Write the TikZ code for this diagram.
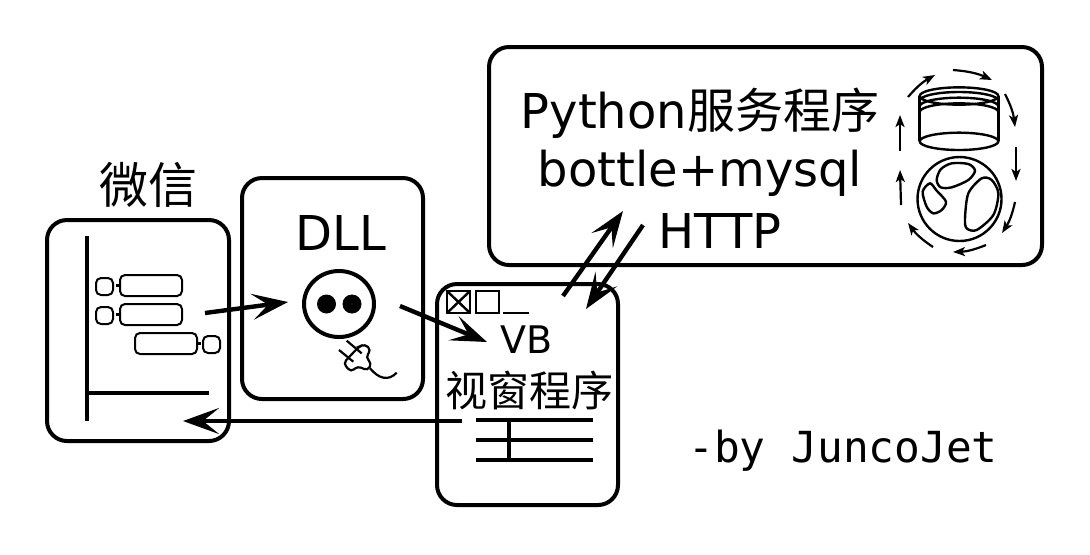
\documentclass[tikz,border=0pt]{standalone}
\usepackage{fontspec}
\setmainfont{DejaVu Sans}
\setmonofont{DejaVu Sans Mono}
\newfontfamily\cjk{Noto Sans CJK SC}
\usetikzlibrary{arrows.meta, shapes.geometric}
\tikzset{
  panel/.style={draw, line width=2pt, rounded corners=10pt, minimum width=#1, anchor=north west, inner sep=0pt},
  label/.style={inner sep=0pt, font=\fontsize{24}{26}\selectfont},
  flow/.style={line width=2.2pt, -{Stealth[length=18pt, width=13pt, inset=8pt]}},
  turn/.style={line width=1.1pt, -{Stealth[length=6pt, width=4.5pt, inset=1.5pt]}},
  thin part/.style={line width=1.2pt},
  bar/.style={line width=2.2pt},
  bubble/.style={draw, line width=1pt, rounded corners=2.5pt, anchor=north west, inner sep=0pt}
}
\begin{document}
\begin{tikzpicture}[x=0.5pt, y=-0.5pt]
\useasboundingbox (0,0) rectangle (1090,554);

% the four boxes
\node[panel=91pt, minimum height=110.5pt] (wechat) at (45,218) {};
\node[panel=90.5pt, minimum height=110.5pt] (dll) at (240,176) {};
\node[panel=90.5pt, minimum height=110.5pt] (vb) at (435,282) {};
\node[panel=276.5pt, minimum height=109pt] (server) at (487,45) {};

% titles
\node[label, font=\fontsize{24.5}{26}\selectfont] (wechatname) at (148,185) {\cjk 微信};
\node[label] (dllname) at (341,233) {DLL};
\node[label] (servername) at (700,113) {Python\cjk 服务程序};
\node[label] (serverstack) at (700,173) {bottle+mysql};
\node[label] (serverproto) at (720,231) {HTTP};
\node[label, font=\fontsize{19}{22}\selectfont] (vbname) at (527,340) {VB};
\node[label, font=\fontsize{21}{22}\selectfont] (vbtext) at (529,390) {\cjk 视窗程序};
\node[label, font=\fontsize{21.4}{24}\ttfamily] (byline) at (843,451) {-by JuncoJet};

% chat window
\draw[bar] (87,236) -- (87,421);
\draw[bar] (87,393) -- (209,393);
\node[bubble, minimum width=8.5pt, minimum height=8.5pt] (facea) at (95,277) {};
\node[bubble, minimum width=31pt, minimum height=10.5pt] (chata) at (119,274) {};
\node[bubble, minimum width=8.5pt, minimum height=8.5pt] (faceb) at (95,306) {};
\node[bubble, minimum width=31pt, minimum height=10.5pt] (chatb) at (119,303) {};
\node[bubble, minimum width=31pt, minimum height=10.5pt] (chatc) at (134,332) {};
\node[bubble, minimum width=8.5pt, minimum height=8.5pt] (facec) at (202,335) {};
\draw[thin part] (chata.west) -- +(-3,0);
\draw[thin part] (chatb.west) -- +(-3,0);
\draw[thin part] (chatc.east) -- +(3,0);

% socket and plug
\node[draw, line width=2pt, ellipse, minimum width=35pt, minimum height=33pt, inner sep=0pt] (socket) at (339,304) {};
\fill (326.5,304) circle (9.5);
\fill (352,304) circle (9.5);
\begin{scope}[shift={(335,330)}, scale=1/3, line width=1.1pt]
\draw (35,32) -- (80,70);
\draw (12,60) -- (55,95);
\draw[rounded corners=2pt] (72,50) -- (90,42) -- (108,60) -- (92,82) -- (110,100) -- (98,122) -- (68,108) -- (48,126) -- (25,100) -- (48,75) -- cycle;
\draw (105,115) .. controls (130,145) and (160,155) .. (185,128);
\end{scope}

% window buttons
\draw[thin part] (447,291) rectangle (470,313);
\draw[thin part] (447,291) -- (470,313);
\draw[thin part] (470,291) -- (447,313);
\draw[thin part] (476,291) rectangle (499,313);
\draw[thin part] (503,313) -- (529,313);

% list under the text
\draw[bar] (476,420) -- (593,420);
\draw[bar] (476,440) -- (593,440);
\draw[bar] (476,460) -- (593,460);
\draw[bar] (509,420) -- (509,460);

% database
\begin{scope}[shift={(880,50)}, scale=1/3, line width=1.2pt]
\draw (237,138) ellipse (118 and 26);
\draw (237,274) ellipse (118 and 26);
\draw (119,138) -- (119,274);
\draw (355,138) -- (355,274);
\draw (119,152) arc[start angle=180, end angle=360, x radius=118, y radius=26];
\draw (119,169) arc[start angle=180, end angle=360, x radius=118, y radius=26];
\draw (119,186) arc[start angle=180, end angle=360, x radius=118, y radius=26];
\end{scope}

% globe
\begin{scope}[shift={(910,150)}, scale=1/3, line width=1.2pt]
\draw (148.5,147) circle (126);
\draw plot[smooth cycle] coordinates {(80,90) (92,58) (125,40) (175,42) (195,62) (175,90) (125,112) (92,112)};
\draw plot[smooth cycle] coordinates {(38,125) (60,100) (80,122) (108,155) (95,180) (70,190) (50,170)};
\draw plot[smooth cycle] coordinates {(165,205) (175,130) (215,85) (245,90) (265,130) (250,195) (200,240) (170,235)};
\end{scope}

% arrows round the icon
\coordinate (ta) at (908,97); \coordinate (tb) at (935,75);
\coordinate (tc) at (953,70); \coordinate (td) at (992,80);
\coordinate (te) at (1005,94); \coordinate (tf) at (1015,127);
\coordinate (tg) at (1016,147); \coordinate (th) at (1016,181);
\coordinate (ti) at (1015,202); \coordinate (tj) at (1002,233);
\coordinate (tk) at (986,245); \coordinate (tl) at (953,252);
\coordinate (tm) at (933,247); \coordinate (tn) at (908,223);
\coordinate (to) at (901,205); \coordinate (tp) at (900,170);
\coordinate (tq) at (900,151); \coordinate (tr) at (900,115);
\draw[turn] (ta) to[bend left=10] (tb);
\draw[turn] (tc) to[bend left=10] (td);
\draw[turn] (te) to[bend left=10] (tf);
\draw[turn] (tg) -- (th);
\draw[turn] (ti) to[bend left=10] (tj);
\draw[turn] (tk) to[bend left=10] (tl);
\draw[turn] (tm) to[bend left=10] (tn);
\draw[turn] (to) -- (tp);
\draw[turn] (tq) -- (tr);

% main connectors
\coordinate (outa) at (205,313); \coordinate (ina) at (288,302);
\coordinate (outb) at (400,306); \coordinate (inb) at (487,342);
\coordinate (outc) at (563,296); \coordinate (inc) at (623,211);
\coordinate (outd) at (643,225); \coordinate (ind) at (586,309);
\coordinate (oute) at (462,421); \coordinate (ine) at (183,421);
\draw[flow] (outa) -- (ina);
\draw[flow] (outb) -- (inb);
\draw[flow] (outc) -- (inc);
\draw[flow] (outd) -- (ind);
\draw[flow] (oute) -- (ine);
\end{tikzpicture}
\end{document}
